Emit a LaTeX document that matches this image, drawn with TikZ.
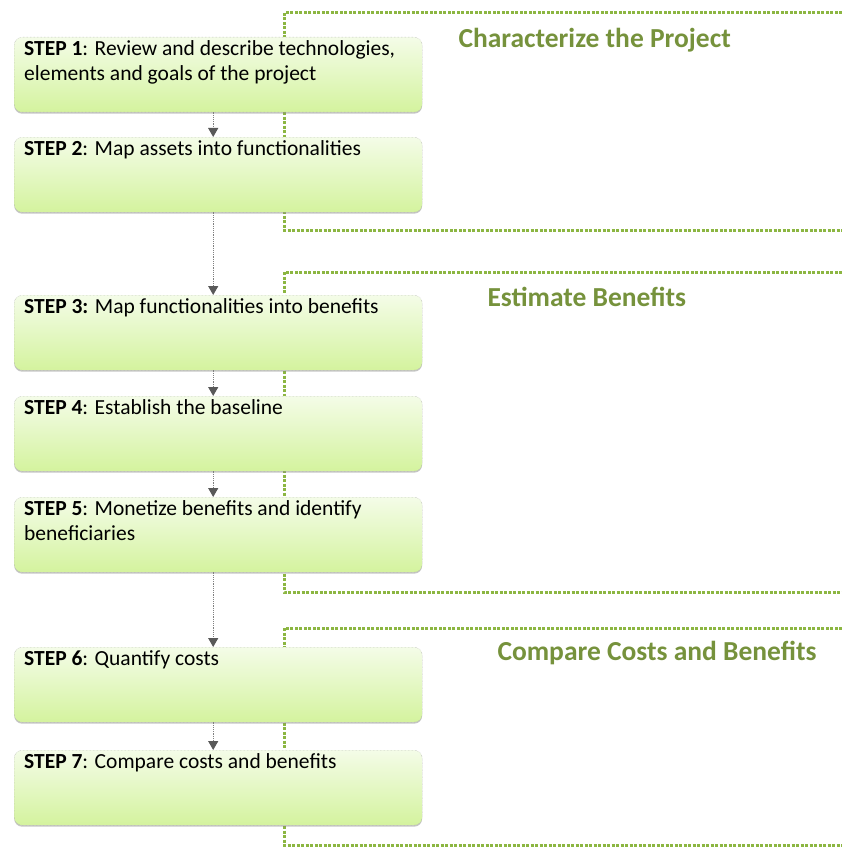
\documentclass[tikz,border=0pt]{standalone}
\usepackage{fontspec}
\setmainfont{Carlito}
\usetikzlibrary{arrows.meta,shadows}
\definecolor{boxtop}{RGB}{244,252,232}
\definecolor{boxbottom}{RGB}{212,243,158}
\definecolor{bracketgreen}{RGB}{140,182,66}
\definecolor{titlegreen}{RGB}{118,146,60}
\begin{document}
\begin{tikzpicture}[x=1pt, y=-1pt,
    stepbox/.style={rectangle, rounded corners=8pt, draw=gray!70, densely dotted, thin,
        top color=boxtop, bottom color=boxbottom, anchor=north west,
        inner xsep=10pt, inner ysep=3pt, font=\fontsize{21.5}{25}\selectfont,
        drop shadow={shadow xshift=0pt, shadow yshift=-1.5pt, opacity=0.45},
        execute at begin node={\begin{minipage}[t][69pt][t]{388pt}\raggedright},
        execute at end node={\end{minipage}}},
    flowarrow/.style={densely dotted, line width=1.2pt, gray, -{Triangle[width=10pt,length=9pt,color=black!65,fill=black!65]}},
    bracket/.style={bracketgreen, line width=3pt, dash pattern=on 3pt off 1.5pt},
    phase/.style={anchor=west, text=titlegreen, font=\fontsize{27.5}{32}\selectfont\bfseries}
]
    \useasboundingbox (0,0) rectangle (842,848);

    % Phase brackets
    \draw[bracket] (842,13) -- (284,13) -- (284,230) -- (842,230);
    \draw[bracket] (842,272) -- (284,272) -- (284,592) -- (842,592);
    \draw[bracket] (842,628) -- (284,628) -- (284,845) -- (842,845);

    % Phase titles
    \node[phase] (characterize) at (455,40) {Characterize the Project};
    \node[phase] (estimate) at (484,297) {Estimate Benefits};
    \node[phase] (compare) at (494,653) {Compare Costs and Benefits};

    % Characterize the project
    \node[stepbox] (s1) at (14,37) {\textbf{STEP 1}: Review and describe technologies,\\ elements and goals of the project};
    \node[stepbox] (s2) at (14,137) {\textbf{STEP 2}: Map assets into functionalities};

    % Estimate benefits
    \node[stepbox] (s3) at (14,295) {\textbf{STEP 3:} Map functionalities into benefits};
    \node[stepbox] (s4) at (14,396) {\textbf{STEP 4}: Establish the baseline};
    \node[stepbox] (s5) at (14,497) {\textbf{STEP 5}: Monetize benefits and identify\\ beneficiaries};

    % Compare costs and benefits
    \node[stepbox] (s6) at (14,647) {\textbf{STEP 6}: Quantify costs};
    \node[stepbox] (s7) at (14,750) {\textbf{STEP 7}: Compare costs and benefits};

    % Arrows
    \draw[flowarrow] ([xshift=-5pt]s1.south) -- ([xshift=-5pt]s2.north);
    \draw[flowarrow] ([xshift=-5pt]s2.south) -- ([xshift=-5pt]s3.north);
    \draw[flowarrow] ([xshift=-5pt]s3.south) -- ([xshift=-5pt]s4.north);
    \draw[flowarrow] ([xshift=-5pt]s4.south) -- ([xshift=-5pt]s5.north);
    \draw[flowarrow] ([xshift=-5pt]s5.south) -- ([xshift=-5pt]s6.north);
    \draw[flowarrow] ([xshift=-5pt]s6.south) -- ([xshift=-5pt]s7.north);
\end{tikzpicture}
\end{document}
